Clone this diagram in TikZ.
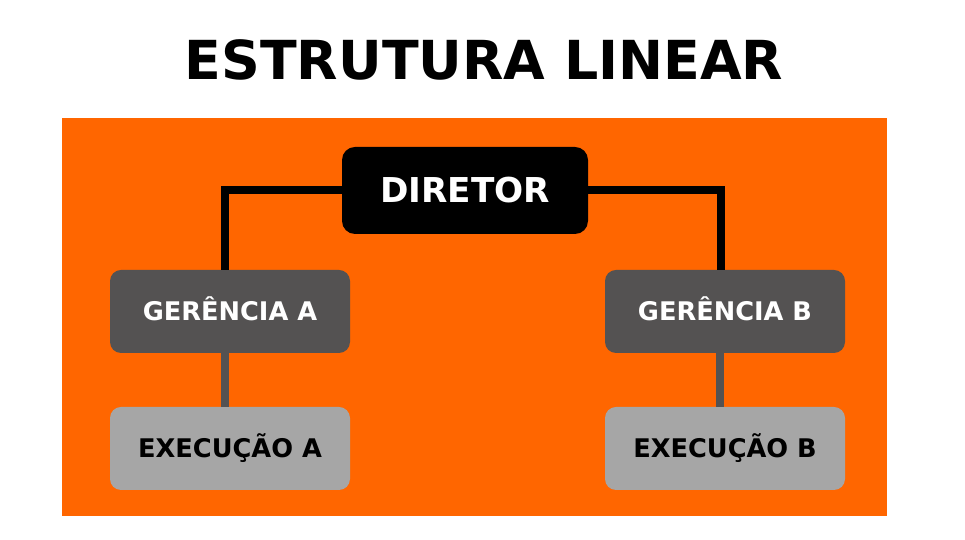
\documentclass[tikz,border=0pt]{standalone}
\usepackage{fontspec}
\setmainfont{DejaVu Sans}
\usepackage{xcolor}
\usepackage{tikz}
\usetikzlibrary{positioning}
\definecolor{laranja}{HTML}{FF6600}
\definecolor{cinzaesc}{HTML}{545252}
\definecolor{cinzacla}{HTML}{A6A6A6}

\begin{document}
\begin{tikzpicture}[
  box/.style={rounded corners=0.22cm, minimum width=4.8cm, minimum height=1.66cm, align=center, text height=0.37cm, text depth=0pt, font=\fontsize{14.6}{16}\selectfont\bfseries},
  gerbox/.style={box, fill=cinzaesc, text=white},
  execbox/.style={box, fill=cinzacla, text=black},
  linha/.style={line width=0.16cm, line join=miter}
]
  \useasboundingbox (0,0) rectangle (19.3,10.8);
  \fill[white] (0,0) rectangle (19.3,10.8);
  \fill[laranja] (1.24,0.48) rectangle (17.74,8.44);

  % Titulo
  \node[font=\fontsize{30.6}{36}\selectfont\bfseries] (titulo) at (9.68,9.6) {ESTRUTURA LINEAR};

  \node[box, fill=black, text=white, rounded corners=0.26cm, minimum width=4.92cm, minimum height=1.74cm, text height=0.5cm, font=\fontsize{19.5}{22}\selectfont\bfseries] (dir) at (9.3,6.99) {DIRETOR};

  \node[gerbox] (gera) at (4.6,4.57) {GERÊNCIA A};
  \node[gerbox] (gerb) at (14.5,4.57) {GERÊNCIA B};

  \node[execbox] (exea) at (4.6,1.83) {EXECUÇÃO A};
  \node[execbox] (exeb) at (14.5,1.83) {EXECUÇÃO B};

  \draw[linha] (dir.west) -| ([xshift=-0.1cm]gera.north);
  \draw[linha] (dir.east) -| ([xshift=-0.08cm]gerb.north);
  \draw[linha, cinzaesc] ([xshift=-0.1cm]gera.south) -- ([xshift=-0.1cm]exea.north);
  \draw[linha, cinzaesc] ([xshift=-0.1cm]gerb.south) -- ([xshift=-0.1cm]exeb.north);
\end{tikzpicture}
\end{document}
